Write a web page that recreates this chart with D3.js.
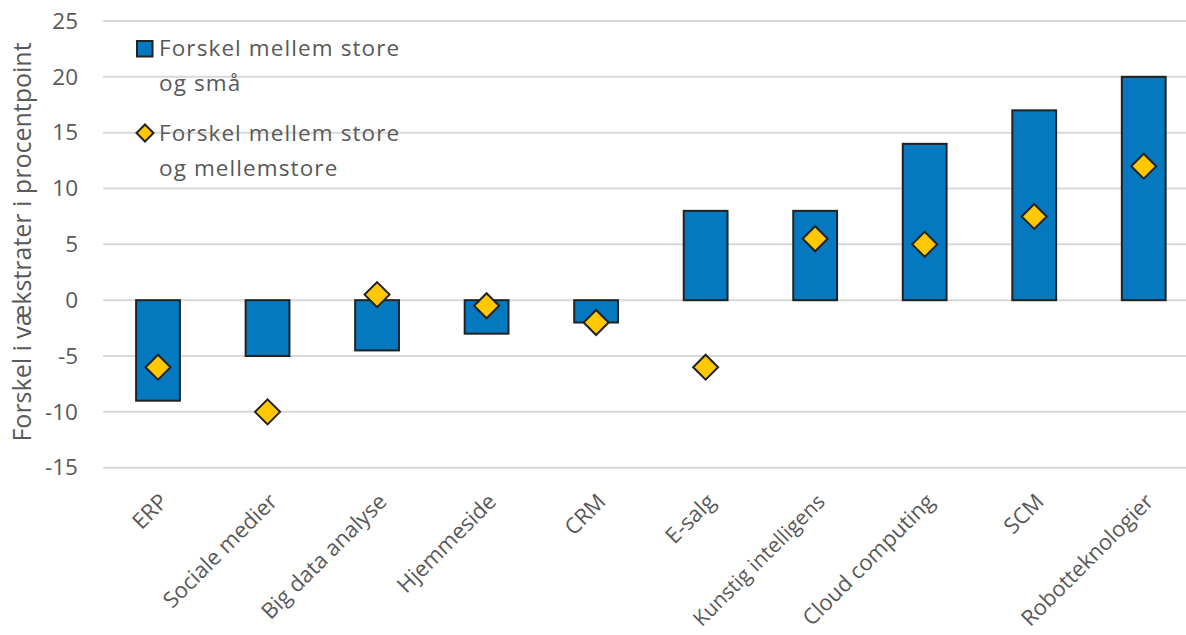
<!DOCTYPE html>
<html><head><meta charset="utf-8">
<script src="https://cdn.jsdelivr.net/npm/d3@7"></script>
<style>body{margin:0;background:#fff;overflow:hidden}text{font-family:"Open Sans","Noto Sans",sans-serif;fill:#595959}</style>
</head><body>
<svg id="c" width="1186" height="635"></svg>
<script>
const categories = ["ERP","Sociale medier","Big data analyse","Hjemmeside","CRM","E-salg","Kunstig intelligens","Cloud computing","SCM","Robotteknologier"];
const smallDiff = [-9,-5,-4.5,-3,-2,8,8,14,17,20];
const mediumDiff = [-6,-10,0.5,-0.5,-2,-6,5.5,5,7.5,12];
const yTicks = [-15,-10,-5,0,5,10,15,20,25];
const seriesNames = ["Forskel mellem store\nog små","Forskel mellem store\nog mellemstore"];

const svg = d3.select("#c");
const x = d3.scaleBand().domain(categories).range([103.25,1198.5]).paddingInner(0.6).paddingOuter(0.3);
const y = d3.scaleLinear().domain([-15,25]).range([467.7,21]);

// gridlines
svg.append("g").selectAll("line").data(yTicks).join("line")
  .attr("x1",103).attr("x2",1186).attr("y1",d=>y(d)).attr("y2",d=>y(d))
  .attr("stroke","#d9d9d9").attr("stroke-width",2);

// y axis labels
const yAxis = svg.append("g").attr("transform","translate(84,0)")
  .call(d3.axisLeft(y).tickValues(yTicks).tickSize(0).tickPadding(6).tickFormat(d=>String(d)));
yAxis.select(".domain").remove();
yAxis.selectAll("text").style("font-size","22.5px").style("font-family",null).attr("fill","#595959");

// y title
svg.append("text").attr("transform","translate(31,242) rotate(-90)").attr("text-anchor","middle")
  .style("font-size","25px").text("Forskel i vækstrater i procentpoint");

// bars
svg.append("g").selectAll("rect").data(categories).join("rect")
  .attr("x",d=>x(d)).attr("width",x.bandwidth())
  .attr("y",(d,i)=>y(Math.max(0,smallDiff[i])))
  .attr("height",(d,i)=>Math.abs(y(smallDiff[i])-y(0)))
  .attr("fill","#0579BF").attr("stroke","#222").attr("stroke-width",2);

// diamonds
const diamondPath = "M0,-12.5L12.5,0L0,12.5L-12.5,0Z";
svg.append("g").selectAll("path").data(categories).join("path")
  .attr("transform",(d,i)=>`translate(${x(d)+x.bandwidth()/2},${y(mediumDiff[i])})`)
  .attr("d",diamondPath)
  .attr("fill","#FFC800").attr("stroke","#222").attr("stroke-width",2);

// x labels
const xAxis = svg.append("g").attr("transform","translate(0,478)")
  .call(d3.axisBottom(x).tickSize(0).tickPadding(0));
xAxis.select(".domain").remove();
xAxis.selectAll("text").style("font-size","22px").style("font-family",null).attr("fill","#595959")
  .attr("text-anchor","end").attr("dy",null).attr("y",0)
  .attr("transform","translate(11,25) rotate(-45)")
  .each(function(){
    // shrink a label slightly if it would run past the bottom edge
    const maxLen = 176;
    const len = this.getComputedTextLength();
    if (len > maxLen) d3.select(this).style("font-size", (22*maxLen/len).toFixed(2)+"px");
  });

// legend
const lg = svg.append("g");
lg.append("rect").attr("x",137).attr("y",41).attr("width",15.5).attr("height",15.5)
  .attr("fill","#0579BF").attr("stroke","#222").attr("stroke-width",2);
lg.append("path").attr("transform","translate(145,133)").attr("d","M0,-8.5L8.5,0L0,8.5L-8.5,0Z")
  .attr("fill","#FFC800").attr("stroke","#222").attr("stroke-width",2);
const legendY = [56,141];
seriesNames.forEach((n,i)=>{
  const t = lg.append("text").attr("x",159).attr("y",legendY[i]).style("font-size","22.5px").style("letter-spacing","1.1px");
  n.split("\n").forEach((line,j)=>t.append("tspan").attr("x",159).attr("dy",j?34.5:0).text(line));
});
</script>
</body></html>
